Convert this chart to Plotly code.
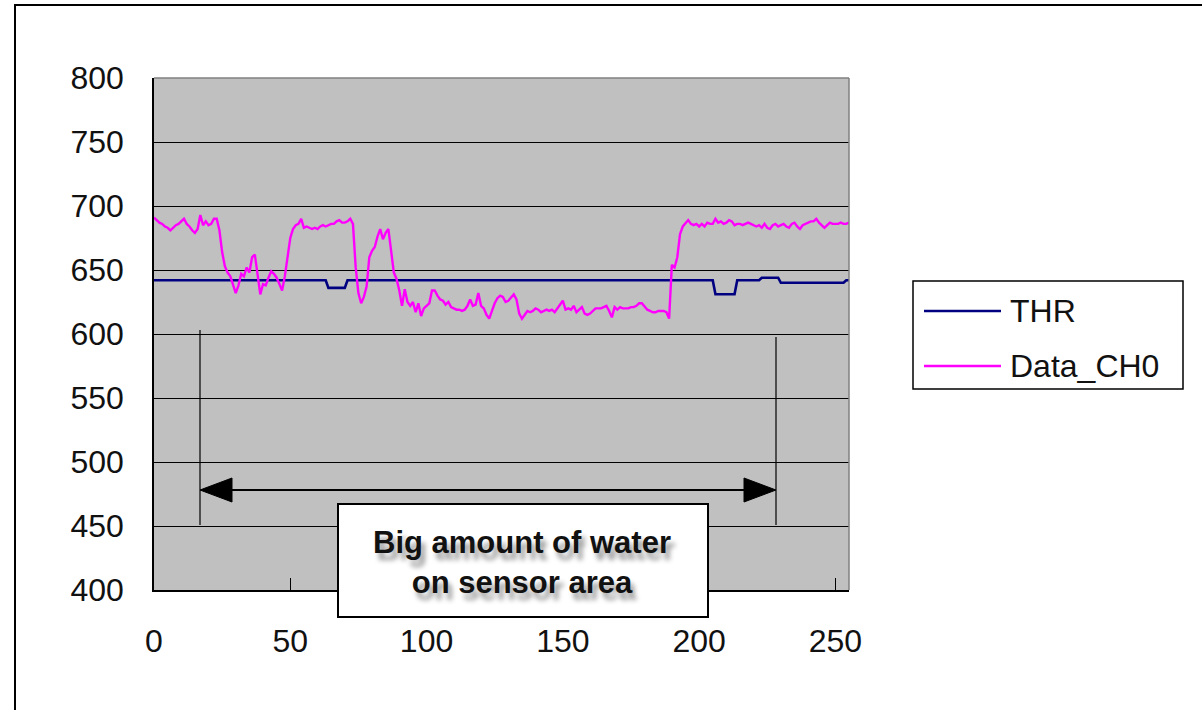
import plotly.graph_objects as go

# Sample index (0..255) and the two captured signals
sample = list(range(256))

data_ch0 = [
    691, 689, 687, 686, 684, 683, 681, 683, 685, 686, 688, 690, 686, 684, 681, 679,
    682, 693, 685, 688, 685, 686, 690, 690, 681, 664, 653, 648, 645, 639, 632, 638,
    647, 645, 652, 648, 660, 662, 648, 631, 639, 638, 644, 649, 647, 644, 639, 634,
    645, 662, 675, 682, 685, 686, 690, 683, 684, 683, 682, 683, 682, 684, 685, 684,
    685, 686, 686, 688, 689, 687, 687, 688, 690, 686, 652, 632, 624, 629, 637, 660,
    665, 668, 676, 682, 674, 679, 682, 665, 648, 643, 634, 622, 635, 625, 622, 625,
    617, 624, 614, 620, 622, 624, 634, 634, 630, 627, 626, 623, 625, 621, 620, 619,
    619, 618, 619, 622, 627, 622, 623, 632, 622, 620, 615, 612, 618, 624, 628, 630,
    629, 625, 626, 629, 631, 627, 616, 612, 615, 618, 617, 618, 620, 619, 617, 618,
    619, 618, 619, 617, 620, 623, 626, 619, 620, 619, 622, 617, 619, 621, 616, 615,
    616, 618, 620, 620, 620, 621, 622, 618, 613, 621, 619, 621, 620, 620, 620, 621,
    621, 622, 624, 624, 621, 619, 618, 617, 617, 618, 618, 618, 617, 612, 654, 652,
    660, 678, 684, 687, 689, 686, 685, 686, 684, 686, 684, 687, 686, 686, 690, 687,
    688, 686, 687, 689, 688, 685, 686, 686, 685, 686, 687, 686, 685, 684, 685, 683,
    686, 683, 682, 685, 686, 684, 685, 686, 684, 683, 686, 687, 684, 682, 685, 686,
    687, 688, 688, 690, 687, 685, 683, 685, 687, 686, 686, 686, 687, 686, 686, 687,
]

thr = [
    642, 642, 642, 642, 642, 642, 642, 642, 642, 642, 642, 642, 642, 642, 642, 642,
    642, 642, 642, 642, 642, 642, 642, 642, 642, 642, 642, 642, 642, 642, 642, 642,
    642, 642, 642, 642, 642, 642, 642, 642, 642, 642, 642, 642, 642, 642, 642, 642,
    642, 642, 642, 642, 642, 642, 642, 642, 642, 642, 642, 642, 642, 642, 642, 642,
    636, 636, 636, 636, 636, 636, 636, 642, 642, 642, 642, 642, 642, 642, 642, 642,
    642, 642, 642, 642, 642, 642, 642, 642, 642, 642, 642, 642, 642, 642, 642, 642,
    642, 642, 642, 642, 642, 642, 642, 642, 642, 642, 642, 642, 642, 642, 642, 642,
    642, 642, 642, 642, 642, 642, 642, 642, 642, 642, 642, 642, 642, 642, 642, 642,
    642, 642, 642, 642, 642, 642, 642, 642, 642, 642, 642, 642, 642, 642, 642, 642,
    642, 642, 642, 642, 642, 642, 642, 642, 642, 642, 642, 642, 642, 642, 642, 642,
    642, 642, 642, 642, 642, 642, 642, 642, 642, 642, 642, 642, 642, 642, 642, 642,
    642, 642, 642, 642, 642, 642, 642, 642, 642, 642, 642, 642, 642, 642, 642, 642,
    642, 642, 642, 642, 642, 642, 642, 642, 642, 642, 642, 642, 642, 642, 631, 631,
    631, 631, 631, 631, 631, 631, 642, 642, 642, 642, 642, 642, 642, 642, 642, 644,
    644, 644, 644, 644, 644, 644, 640, 640, 640, 640, 640, 640, 640, 640, 640, 640,
    640, 640, 640, 640, 640, 640, 640, 640, 640, 640, 640, 640, 640, 640, 642, 642,
]

y_ticks = [400, 450, 500, 550, 600, 650, 700, 750, 800]
x_ticks = [0, 50, 100, 150, 200, 250]

series_names = ["THR", "Data_CH0"]
series_colors = ["#000080", "#FF00FF"]

note_text = "Big amount of water<br>on sensor area"

# Canvas / plot-area geometry (pixels)
W, H = 1202, 710
L, R, T, B = 154, 353, 78, 120
PW, PH = W - L - R, H - T - B

X_MAX = 255
Y_MIN, Y_MAX = 400, 800


def px(x):
    """Canvas pixel column -> paper x."""
    return (x - L) / PW


def py(y):
    """Canvas pixel row -> paper y."""
    return (H - B - y) / PH


def dx(x):
    """Canvas pixel column -> data x."""
    return (x - L) / PW * X_MAX


def dy(y):
    """Canvas pixel row -> data y."""
    return Y_MIN + (H - B - y) / PH * (Y_MAX - Y_MIN)


FONT = "Liberation Sans, Arial, sans-serif"

fig = go.Figure()
fig.add_trace(go.Scatter(x=sample, y=thr, mode="lines", name=series_names[0],
                         line=dict(color=series_colors[0], width=2.6)))
fig.add_trace(go.Scatter(x=sample, y=data_ch0, mode="lines", name=series_names[1],
                         line=dict(color=series_colors[1], width=2.4)))

shapes = []

# outer chart frame (only the top and left edges fall inside the canvas)
shapes.append(dict(type="rect", xref="paper", yref="paper",
                   x0=px(15), x1=px(1260), y0=py(5), y1=py(760),
                   line=dict(color="#000000", width=2), fillcolor="rgba(0,0,0,0)",
                   layer="below"))

# grey plot-area border on the top and right edges
shapes.append(dict(type="line", xref="paper", yref="paper", x0=0, x1=1, y0=1, y1=1,
                   line=dict(color="#808080", width=1.5), layer="above"))
shapes.append(dict(type="line", xref="paper", yref="paper", x0=1, x1=1, y0=0, y1=1,
                   line=dict(color="#808080", width=1.5), layer="above"))

# span markers for the wet region
span_left, span_right = dx(200), dx(776)
shapes.append(dict(type="line", xref="x", yref="y", x0=span_left, x1=span_left,
                   y0=dy(330), y1=dy(525), line=dict(color="#000000", width=1.2),
                   layer="above"))
shapes.append(dict(type="line", xref="x", yref="y", x0=span_right, x1=span_right,
                   y0=dy(337), y1=dy(525), line=dict(color="#000000", width=1.2),
                   layer="above"))

# double-headed arrow
arrow_y = dy(490)
head_len = 32 / PW * X_MAX
head_half = 12 / PH * (Y_MAX - Y_MIN)
shapes.append(dict(type="line", xref="x", yref="y", x0=span_left + head_len * 0.5,
                   x1=span_right - head_len * 0.5, y0=arrow_y, y1=arrow_y,
                   line=dict(color="#000000", width=2), layer="above"))
shapes.append(dict(type="path", xref="x", yref="y",
                   path=(f"M {span_left} {arrow_y} "
                         f"L {span_left + head_len} {arrow_y + head_half} "
                         f"L {span_left + head_len} {arrow_y - head_half} Z"),
                   fillcolor="#000000", line=dict(color="#000000", width=1), layer="above"))
shapes.append(dict(type="path", xref="x", yref="y",
                   path=(f"M {span_right} {arrow_y} "
                         f"L {span_right - head_len} {arrow_y + head_half} "
                         f"L {span_right - head_len} {arrow_y - head_half} Z"),
                   fillcolor="#000000", line=dict(color="#000000", width=1), layer="above"))

# callout box
shapes.append(dict(type="rect", xref="paper", yref="paper",
                   x0=px(338), x1=px(708), y0=py(617), y1=py(504),
                   fillcolor="#FFFFFF", line=dict(color="#000000", width=2), layer="above"))

# legend box with long sample lines
shapes.append(dict(type="rect", xref="paper", yref="paper",
                   x0=px(913), x1=px(1183), y0=py(389), y1=py(281),
                   fillcolor="#FFFFFF", line=dict(color="#000000", width=1.5),
                   layer="above"))
legend_rows = [311, 366]
for row, color in zip(legend_rows, series_colors):
    shapes.append(dict(type="line", xref="paper", yref="paper",
                       x0=px(924), x1=px(1001), y0=py(row), y1=py(row),
                       line=dict(color=color, width=2.6), layer="above"))

annotations = [
    dict(text=note_text, xref="paper", yref="paper", x=px(522), y=py(562),
         xanchor="center", yanchor="middle", showarrow=False, align="center",
         font=dict(family=FONT, size=31, color="#111111", weight="bold",
                   shadow="4px 7px 5px rgba(0,0,0,0.4)")),
]
for row, name in zip(legend_rows, series_names):
    annotations.append(dict(text=name, xref="paper", yref="paper", x=px(1008), y=py(row),
                            xanchor="left", yanchor="middle", showarrow=False,
                            font=dict(family=FONT, size=32, color="#111111")))

fig.update_layout(
    width=W, height=H, autosize=False,
    margin=dict(l=L, r=R, t=T, b=B, pad=0),
    paper_bgcolor="#FFFFFF",
    plot_bgcolor="#C0C0C0",
    showlegend=False,
    font=dict(family=FONT, size=32, color="#111111"),
    shapes=shapes,
    annotations=annotations,
    xaxis=dict(range=[0, X_MAX], tickvals=x_ticks, ticktext=[str(v) for v in x_ticks],
               showgrid=False, zeroline=False, showline=True, linecolor="#000000",
               linewidth=1.5, ticks="inside", ticklen=12, tickwidth=1.2,
               tickcolor="#000000", ticklabelstandoff=22,
               tickfont=dict(family=FONT, size=32, color="#111111")),
    yaxis=dict(range=[Y_MIN, Y_MAX], tickvals=y_ticks, ticktext=[str(v) for v in y_ticks],
               showgrid=True, gridcolor="#000000", gridwidth=1, zeroline=False,
               showline=True, linecolor="#000000", linewidth=1.5, ticks="inside",
               ticklen=12, tickwidth=1.2, tickcolor="#000000", ticklabelstandoff=22,
               tickfont=dict(family=FONT, size=32, color="#111111")),
)

fig.write_html("out.html")
